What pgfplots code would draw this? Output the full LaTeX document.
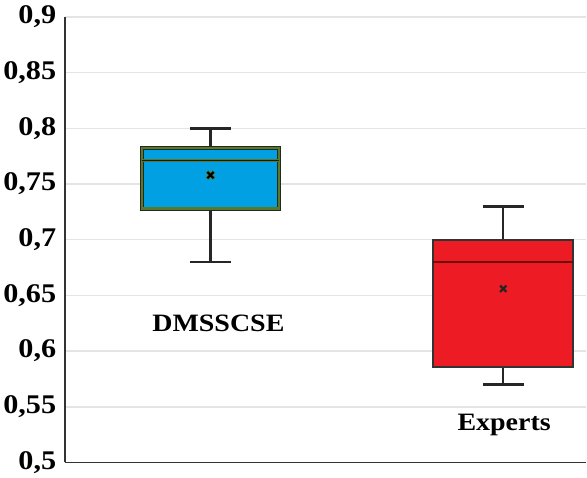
\documentclass[border=0pt]{standalone}
\usepackage{fontspec}
\setmainfont{Liberation Serif}[FakeStretch=1.12]
\usepackage{pgfplots}
\pgfplotsset{compat=1.18}
\usepgfplotslibrary{statistics}
\definecolor{bfill}{RGB}{0,160,227}
\definecolor{gborder}{RGB}{84,122,42}
\definecolor{rfill}{RGB}{237,28,36}
\definecolor{rmed}{RGB}{110,10,10}
\definecolor{gridc}{RGB}{228,228,228}
\begin{document}
\begin{tikzpicture}
\begin{axis}[
  scale only axis, width=522pt, height=446pt,
  xmin=0.502, xmax=2.283, ymin=0.5, ymax=0.9,
  ytick={0.5,0.55,0.6,0.65,0.7,0.75,0.8,0.85,0.9},
  xtick=\empty,
  axis lines*=left,
  axis line style={line width=1.8pt, draw=black!80},
  major tick length=0pt,
  ymajorgrids, grid style={gridc, line width=1.5pt},
  yticklabel style={font=\fontsize{27}{27}\selectfont\bfseries, xshift=-5pt},
  /pgf/number format/assume math mode=true,
  /pgf/number format/use comma, /pgf/number format/fixed, /pgf/number format/precision=2,
  boxplot/draw direction=y,
  clip=false,
]
\addplot[boxplot prepared={draw position=1, lower whisker=0.68, lower quartile=0.728, median=0.771, upper quartile=0.782, upper whisker=0.80, box extend=0.47, whisker extend=0.14},
  fill=bfill, draw=black!85, line width=2.4pt,
  boxplot/every whisker/.style={draw=black!85, line width=2.4pt},
  boxplot/every box/.style={draw=black!85, double=gborder, double distance=2.2pt, line width=0.9pt},
  boxplot/every median/.style={draw=gborder, double=black!90, double distance=1.5pt, line width=1pt},
] coordinates {};
\addplot[boxplot prepared={draw position=2, lower whisker=0.57, lower quartile=0.586, median=0.68, upper quartile=0.70, upper whisker=0.73, box extend=0.478, whisker extend=0.14},
  fill=rfill, draw=black!85, line width=2.4pt,
  boxplot/every whisker/.style={draw=black!85, line width=2.4pt},
  boxplot/every box/.style={draw=black!80, line width=1.8pt},
  boxplot/every median/.style={draw=rmed, line width=2.2pt},
] coordinates {};
\addplot[only marks, mark=x, mark size=5pt, line width=3.6pt, color=gborder] coordinates {(1,0.758)};
\addplot[only marks, mark=x, mark size=4.5pt, line width=2pt, color=black] coordinates {(1,0.758)};
\addplot[only marks, mark=x, mark size=4.5pt, line width=2.2pt, color=black!85] coordinates {(2,0.656)};
\node[font=\fontsize{25}{25}\selectfont\bfseries] at (axis cs:1.027,0.625) {DMSSCSE};
\node[font=\fontsize{25}{25}\selectfont\bfseries, fill=white, inner xsep=6pt] at (axis cs:2.003,0.534) {Experts};
\coordinate (bb1) at (rel axis cs:0,0);
\coordinate (bb2) at (rel axis cs:1,1);
\end{axis}
\path ([yshift=-15pt]bb1) rectangle ([yshift=17pt]bb2);
\end{tikzpicture}
\end{document}
